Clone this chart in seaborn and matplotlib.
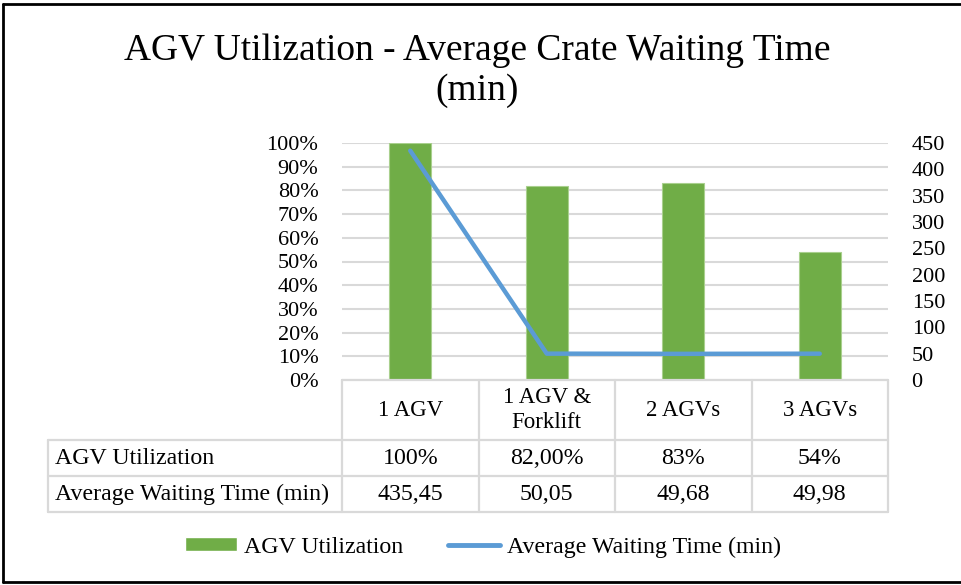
import numpy as np
import pandas as pd
import matplotlib
matplotlib.use("Agg")
import matplotlib.pyplot as plt
from matplotlib.lines import Line2D
from matplotlib.patches import Patch
from matplotlib.ticker import PercentFormatter, MultipleLocator
import seaborn as sns

# data
categories = ["1 AGV", "1 AGV &\nForklift", "2 AGVs", "3 AGVs"]
utilization = [1.00, 0.82, 0.83, 0.54]
waiting_time = [435.45, 50.05, 49.68, 49.98]
utilization_labels = ["100%", "82,00%", "83%", "54%"]
waiting_labels = ["435,45", "50,05", "49,68", "49,98"]
row_names = ["AGV Utilization", "Average Waiting Time (min)"]

GREEN = "#70AD47"
BLUE = "#5B9BD5"
GRID = "#D9D9D9"

sns.set_theme(style="white")
plt.rcParams["font.family"] = ["Liberation Serif", "DejaVu Serif"]
plt.rcParams["text.color"] = "black"
plt.rcParams["ytick.color"] = "black"
plt.rcParams["xtick.color"] = "black"

W, H = 961, 585
fig = plt.figure(figsize=(W / 100, H / 100), dpi=100)


def fx(px):
    return px / W


def fy(py):
    return 1 - py / H


# plot area
ax = fig.add_axes([fx(342), fy(380), fx(888) - fx(342), fy(143) - fy(380)])
df = pd.DataFrame({"config": categories, "util": utilization})
sns.barplot(data=df, x="config", y="util", color=GREEN, saturation=1,
            width=0.31, edgecolor="#A9D08E", linewidth=0.8, ax=ax, zorder=2)
ax.set_xlim(-0.5, len(categories) - 0.5)
ax.set_ylim(0, 1)
ax.yaxis.set_major_locator(MultipleLocator(0.1))
ax.yaxis.set_major_formatter(PercentFormatter(1.0, decimals=0))
ax.set_xlabel("")
ax.set_ylabel("")
ax.tick_params(axis="x", labelbottom=False, length=0)
ax.tick_params(axis="y", length=0, pad=17, labelsize=16, labelcolor="black")
ax.grid(axis="y", color=GRID, lw=1.5)
ax.set_axisbelow(True)
for s in ax.spines.values():
    s.set_visible(False)

# waiting time line on the secondary axis
ax2 = ax.twinx()
sns.lineplot(x=np.arange(len(categories)), y=waiting_time, ax=ax2,
             color=BLUE, lw=3.2, solid_capstyle="round")
ax2.set_ylim(0, 450)
ax2.yaxis.set_major_locator(MultipleLocator(50))
ax2.tick_params(axis="y", length=0, pad=17, labelsize=16, labelcolor="black")
ax2.set_ylabel("")
for s in ax2.spines.values():
    s.set_visible(False)

# data table under the plot
fig.canvas.draw()
to_fig = fig.transFigure.inverted()


def data_x(x):
    return to_fig.transform(ax.transData.transform((x, 0)))[0]


edges = [data_x(i - 0.5) for i in range(len(categories) + 1)]
centers = [data_x(i) for i in range(len(categories))]
left = fx(48)

line_kw = dict(color=GRID, lw=1.6, transform=fig.transFigure)
fig.add_artist(Line2D([edges[0], edges[-1]], [fy(380), fy(380)], **line_kw))
for yy in [440, 476, 512]:
    fig.add_artist(Line2D([left, edges[-1]], [fy(yy), fy(yy)], **line_kw))
for ex in edges:
    fig.add_artist(Line2D([ex, ex], [fy(380), fy(512)], **line_kw))
fig.add_artist(Line2D([left, left], [fy(440), fy(512)], **line_kw))

TS = 17.2
for cx, cat, u, w in zip(centers, categories, utilization_labels, waiting_labels):
    fig.text(cx, fy(410), cat, ha="center", va="center", fontsize=16.5)
    fig.text(cx, fy(458), u, ha="center", va="center", fontsize=TS)
    fig.text(cx, fy(494), w, ha="center", va="center", fontsize=TS)
fig.text(fx(55), fy(458), row_names[0], ha="left", va="center", fontsize=TS)
fig.text(fx(55), fy(494), row_names[1], ha="left", va="center", fontsize=TS)

# title
fig.text(fx(477), fy(71), "AGV Utilization - Average Crate Waiting Time\n(min)",
         ha="center", va="center", fontsize=27, linespacing=1.2)

# legend
handles = [Patch(facecolor=GREEN, label=row_names[0]),
           Line2D([0], [0], color=BLUE, lw=3.5, solid_capstyle="round",
                  label=row_names[1])]
fig.legend(handles=handles, loc="center", bbox_to_anchor=(fx(483), fy(547)),
           ncol=2, frameon=False, fontsize=TS, handlelength=2.2,
           handleheight=0.5, handletextpad=0.3, columnspacing=1.85)

# outer frame (top, left, bottom)
frame_kw = dict(color="black", lw=2, transform=fig.transFigure)
fig.add_artist(Line2D([fx(3), 1], [fy(4), fy(4)], **frame_kw))
fig.add_artist(Line2D([fx(3), fx(3)], [fy(4), fy(582)], **frame_kw))
fig.add_artist(Line2D([fx(3), 1], [fy(582), fy(582)], **frame_kw))

fig.savefig("out.png", dpi=100)
